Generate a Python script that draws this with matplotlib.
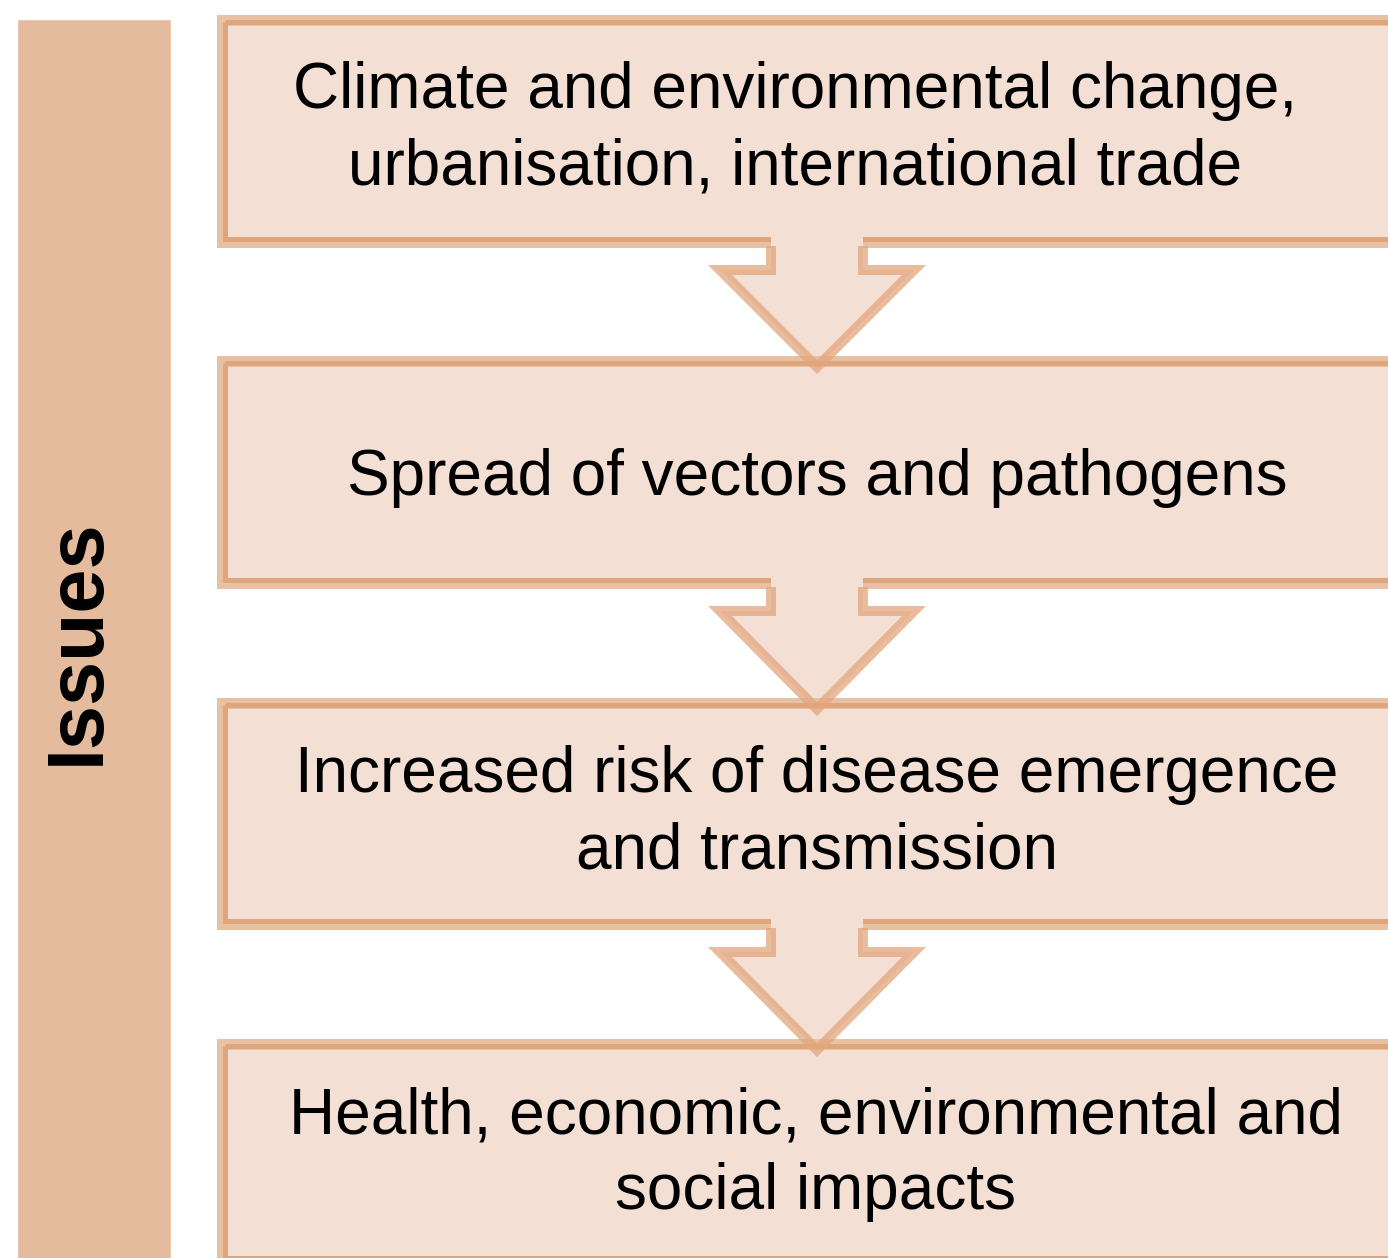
import numpy as np
import matplotlib
matplotlib.use("Agg")
import matplotlib.pyplot as plt
from matplotlib.patches import Rectangle, Polygon

# flowchart content
side_label = "Issues"
box_labels = [
    "Climate and environmental change,\nurbanisation, international trade",
    "Spread of vectors and pathogens",
    "Increased risk of disease emergence\nand transmission",
    "Health, economic, environmental and\nsocial impacts",
]

# layout in pixel units (figure is 1388 x 1258 px)
W, H = 1388, 1258
box_tops = [14, 355, 697, 1038]
box_heights = [233, 233, 232, 228]
box_left, box_right = 217, 1420
text_x = [795, 817, 817, 816]
first_baseline = [108, 495, 792, 1133]
line_gap = 76.5
arrow_cx = 817
shaft_half, head_half = 46, 97
wing_drop = 28          # px from box bottom to arrow wings

fill_col = "#F3DFD3"
edge_light = "#E8C1A4"
edge_dark = "#DFA67E"
side_col = "#E5BB9E"

px = 0.72  # points per pixel at dpi=100

fig = plt.figure(figsize=(W / 100, H / 100), dpi=100)
ax = fig.add_axes([0, 0, 1, 1])
ax.set_xlim(0, W)
ax.set_ylim(H, 0)
ax.axis("off")

plt.rcParams["font.family"] = ["Liberation Sans", "DejaVu Sans"]

# side bar
ax.add_patch(Rectangle((18, 20), 152, H, facecolor=side_col, edgecolor="#EBC8AF",
                       lw=1 * px, zorder=1))
ax.text(78, 642, side_label, rotation=90, ha="center", va="center",
        fontsize=57, fontweight="bold", color="black", zorder=5)

# boxes
for i, (top, h) in enumerate(zip(box_tops, box_heights)):
    ax.add_patch(Rectangle((box_left + 5.5, top + 5.5), box_right - box_left, h - 11,
                           facecolor=fill_col, edgecolor=edge_light, lw=11 * px, zorder=1))
    ax.add_patch(Rectangle((box_left + 8, top + 8), box_right - box_left, h - 16,
                           facecolor="none", edgecolor=edge_dark, lw=5 * px, zorder=1.5))
    for j, line in enumerate(box_labels[i].split("\n")):
        ax.text(text_x[i], first_baseline[i] + j * line_gap, line, ha="center",
                va="baseline", fontsize=46, color="black", zorder=5)

# arrows between boxes
for i in range(len(box_tops) - 1):
    y0 = box_tops[i] + box_heights[i] - 12
    y_wing = box_tops[i] + box_heights[i] + wing_drop - 5
    y_tip = box_tops[i + 1] + 12
    y_cut = box_tops[i + 1] + 1
    slope = head_half / (y_tip - y_wing)
    xc = head_half - (y_cut - y_wing) * slope
    fill_pts = [
        (arrow_cx - shaft_half, y0), (arrow_cx - shaft_half, y_wing),
        (arrow_cx - head_half, y_wing), (arrow_cx - xc, y_cut),
        (arrow_cx + xc, y_cut), (arrow_cx + head_half, y_wing),
        (arrow_cx + shaft_half, y_wing), (arrow_cx + shaft_half, y0),
    ]
    ax.add_patch(Polygon(fill_pts, closed=True, facecolor=fill_col, edgecolor="none",
                         zorder=2))
    y_start = box_tops[i] + box_heights[i] - 1
    outline = np.array([
        (arrow_cx - shaft_half, y_start), (arrow_cx - shaft_half, y_wing),
        (arrow_cx - head_half, y_wing), (arrow_cx, y_tip),
        (arrow_cx + head_half, y_wing), (arrow_cx + shaft_half, y_wing),
        (arrow_cx + shaft_half, y_start),
    ])
    ax.plot(outline[:, 0], outline[:, 1], color="#E2A67C", lw=10 * px, alpha=0.75,
            solid_joinstyle="miter", solid_capstyle="butt", zorder=3)

fig.savefig("out.png", dpi=100)
